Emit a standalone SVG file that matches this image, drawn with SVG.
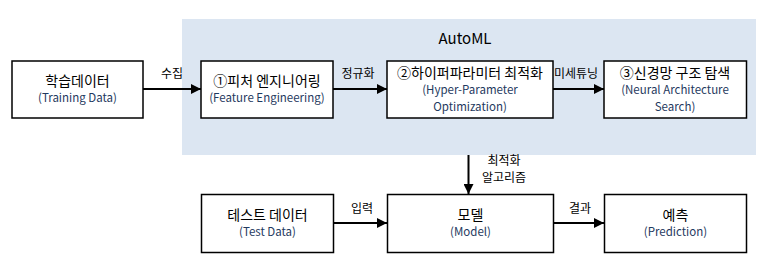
<svg xmlns="http://www.w3.org/2000/svg" width="762" height="262" viewBox="0 0 762 262">
<defs>
<style>
.box{fill:#fff;stroke:#000;stroke-width:1.5}
.ko{font-family:"Noto Sans CJK KR","Malgun Gothic",sans-serif;font-size:14px;fill:#000;text-anchor:middle}
.en{font-family:"Noto Sans CJK KR","Noto Sans",sans-serif;font-size:11.5px;fill:#1f3a60;text-anchor:middle}
.lbl{font-family:"Noto Sans CJK KR",sans-serif;font-size:12px;fill:#000;text-anchor:middle}
.edge{stroke:#000;stroke-width:2;fill:none;marker-end:url(#ah)}
</style>
<marker id="ah" viewBox="0 0 10 10" refX="10" refY="5" markerWidth="5" markerHeight="5" orient="auto" markerUnits="strokeWidth">
<path d="M0,0 L10,5 L0,10 Z" fill="#000"/>
</marker>
</defs>
<rect x="0" y="0" width="762" height="262" fill="#fff"/>
<g id="automl">
<rect x="182" y="19" width="574" height="136" fill="#dce6f2"/>
<text x="465" y="44" font-family="Noto Sans CJK KR,sans-serif" font-size="15" text-anchor="middle" fill="#000">AutoML</text>
</g>
<g id="connectors">
<line class="edge" x1="143" y1="89" x2="201" y2="89"/>
<line class="edge" x1="333" y1="89" x2="387" y2="89"/>
<line class="edge" x1="553" y1="89" x2="604" y2="89"/>
<line class="edge" x1="468.5" y1="155" x2="468.5" y2="194"/>
<line class="edge" x1="333" y1="223" x2="387" y2="223"/>
<line class="edge" x1="553" y1="223" x2="604" y2="223"/>
<text class="lbl" x="172" y="78">수집</text>
<text class="lbl" x="358" y="78">정규화</text>
<text class="lbl" x="576" y="78">미세튜닝</text>
<text class="lbl" x="504" y="165" font-size="11.5">최적화</text>
<text class="lbl" x="504" y="182" font-size="11.5">알고리즘</text>
<text class="lbl" x="362" y="213">입력</text>
<text class="lbl" x="580" y="213">결과</text>
</g>
<g id="training-data">
<rect class="box" x="12" y="61" width="131" height="57"/>
<text class="ko" x="77.5" y="86">학습데이터</text>
<text class="en" x="77.5" y="102">(Training Data)</text>
</g>
<g id="feature-engineering">
<rect class="box" x="201" y="61" width="132" height="57"/>
<text class="ko" x="267" y="86">①피처 엔지니어링</text>
<text class="en" x="267" y="102">(Feature Engineering)</text>
</g>
<g id="hpo">
<rect class="box" x="387" y="61" width="166" height="57"/>
<text class="ko" x="470" y="78">②하이퍼파라미터 최적화</text>
<text class="en" x="470" y="94">(Hyper-Parameter</text>
<text class="en" x="470" y="111">Optimization)</text>
</g>
<g id="nas">
<rect class="box" x="604" y="61" width="142.5" height="57"/>
<text class="ko" x="675" y="78">③신경망 구조 탐색</text>
<text class="en" x="675" y="94">(Neural Architecture</text>
<text class="en" x="675" y="111">Search)</text>
</g>
<g id="test-data">
<rect class="box" x="201.5" y="194.5" width="132" height="58"/>
<text class="ko" x="267.5" y="220">테스트 데이터</text>
<text class="en" x="267.5" y="236">(Test Data)</text>
</g>
<g id="model">
<rect class="box" x="387.5" y="194.5" width="166" height="58"/>
<text class="ko" x="470.5" y="220">모델</text>
<text class="en" x="470.5" y="236">(Model)</text>
</g>
<g id="prediction">
<rect class="box" x="604.5" y="194.5" width="142" height="58"/>
<text class="ko" x="675.5" y="220">예측</text>
<text class="en" x="675.5" y="236">(Prediction)</text>
</g>
</svg>
